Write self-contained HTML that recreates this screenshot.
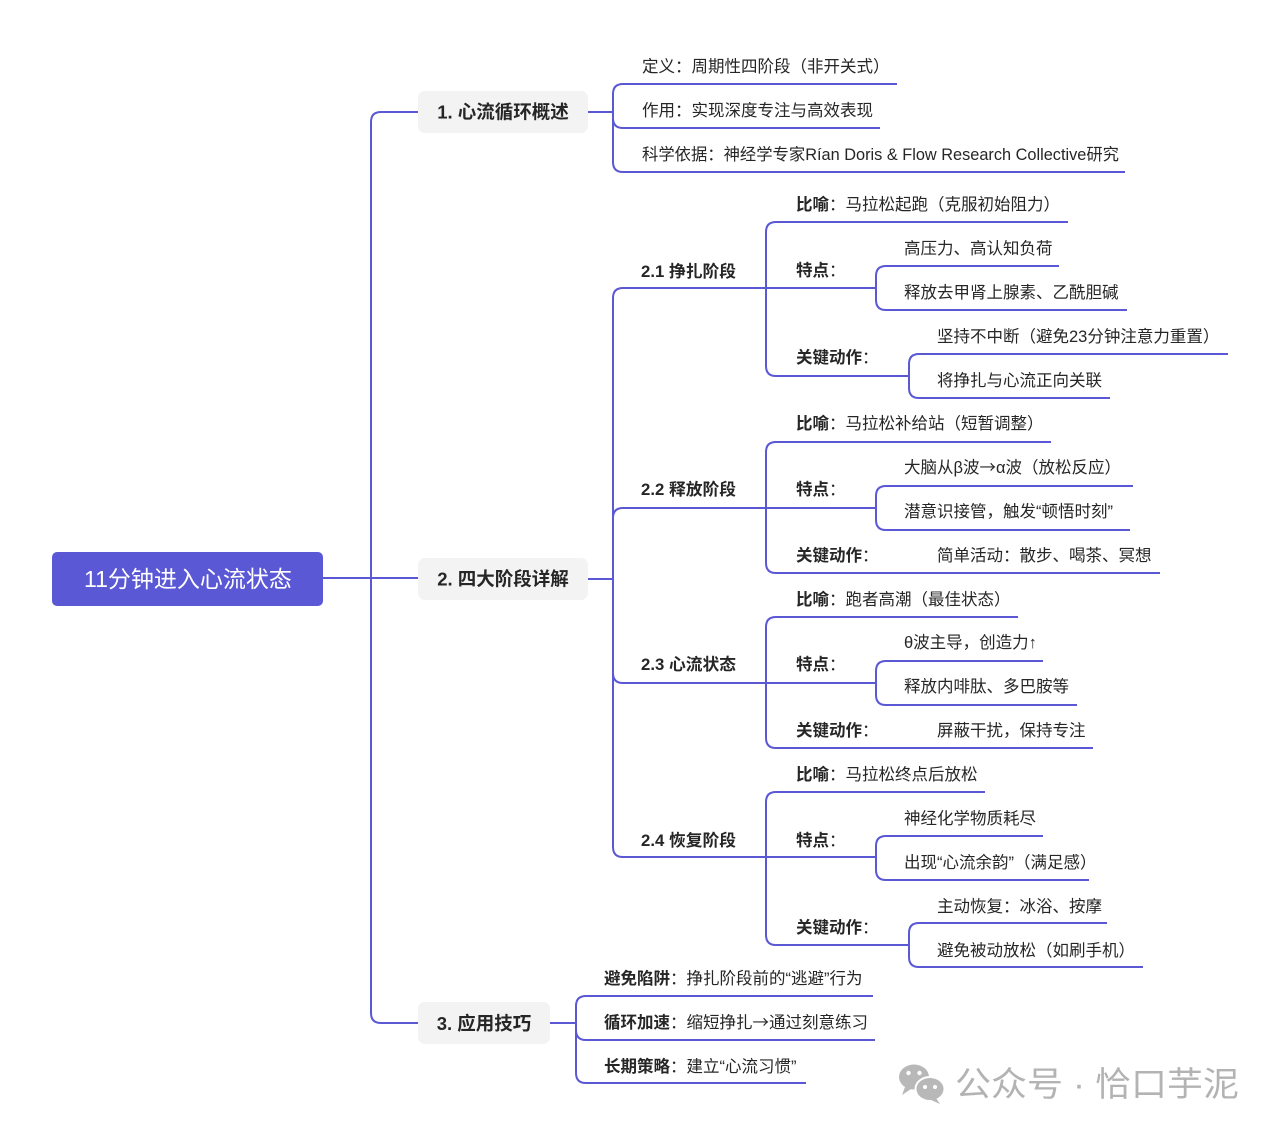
<!DOCTYPE html>
<html><head><meta charset="utf-8"><style>
html,body{margin:0;padding:0;background:#fff;width:1280px;height:1136px;overflow:hidden}
svg{display:block}
text{font-family:"Liberation Sans","Noto Sans CJK SC",sans-serif;fill:#262626;font-size:16.5px;text-spacing-trim:space-all}
.b{font-weight:bold}
.a{font-family:"Noto Sans CJK SC",sans-serif}
</style></head><body>
<svg width="1280" height="1136" viewBox="0 0 1280 1136" xmlns="http://www.w3.org/2000/svg">
<g fill="none" stroke="#5b58d6" stroke-width="2">
<path d="M323 578 H418"/>
<path d="M371 578 V122 Q371 112 381 112 H418"/>
<path d="M371 578 V1013 Q371 1023 381 1023 H418"/>
<path d="M588 112 H613"/>
<path d="M613 112 V94 Q613 84 623 84 H897"/>
<path d="M613 112 V118 Q613 128 623 128 H880"/>
<path d="M613 112 V162 Q613 172 623 172 H1125"/>
<path d="M588 579 H613"/>
<path d="M613 579 V298 Q613 288 623 288 H766"/>
<path d="M613 579 V518 Q613 508 623 508 H766"/>
<path d="M613 579 V673 Q613 683 623 683 H766"/>
<path d="M613 579 V847 Q613 857 623 857 H766"/>
<path d="M766 288 V232 Q766 222 776 222 H1068"/>
<path d="M766 288 H876"/>
<path d="M766 288 V366 Q766 376 776 376 H909"/>
<path d="M876 288 V276 Q876 266 886 266 H1059"/>
<path d="M876 288 V300 Q876 310 886 310 H1127"/>
<path d="M909 376 V364 Q909 354 919 354 H1228"/>
<path d="M909 376 V388 Q909 398 919 398 H1110"/>
<path d="M766 508 V452 Q766 442 776 442 H1051"/>
<path d="M766 508 H876"/>
<path d="M766 508 V563 Q766 573 776 573 H1160"/>
<path d="M876 508 V496 Q876 486 886 486 H1133"/>
<path d="M876 508 V520 Q876 530 886 530 H1130"/>
<path d="M766 683 V627 Q766 617 776 617 H1018"/>
<path d="M766 683 H876"/>
<path d="M766 683 V738 Q766 748 776 748 H1093"/>
<path d="M876 683 V671 Q876 661 886 661 H1043"/>
<path d="M876 683 V695 Q876 705 886 705 H1077"/>
<path d="M766 857 V802 Q766 792 776 792 H985"/>
<path d="M766 857 H876"/>
<path d="M766 857 V935 Q766 945 776 945 H909"/>
<path d="M876 857 V846 Q876 836 886 836 H1043"/>
<path d="M876 857 V870 Q876 880 886 880 H1089"/>
<path d="M909 945 V933 Q909 923 919 923 H1107"/>
<path d="M909 945 V957 Q909 967 919 967 H1143"/>
<path d="M550 1023 H576"/>
<path d="M576 1023 V1006 Q576 996 586 996 H873"/>
<path d="M576 1023 V1030 Q576 1040 586 1040 H875"/>
<path d="M576 1023 V1073 Q576 1083 586 1083 H806"/>
</g>

<rect x="52" y="552" width="271" height="54" rx="5" fill="#5b58d6"/>
<text x="188" y="587" text-anchor="middle" style="font-size:23px;fill:#fff">11分钟进入心流状态</text>

<rect x="418" y="91" width="170" height="42" rx="7" fill="#f3f3f3"/>
<text x="503" y="118.5" text-anchor="middle" class="b" style="font-size:18.5px">1. 心流循环概述</text>
<rect x="418" y="558" width="170" height="42" rx="7" fill="#f3f3f3"/>
<text x="503" y="585.5" text-anchor="middle" class="b" style="font-size:18.5px">2. 四大阶段详解</text>
<rect x="418" y="1002" width="132" height="42" rx="7" fill="#f3f3f3"/>
<text x="484" y="1030" text-anchor="middle" class="b" style="font-size:18.5px">3. 应用技巧</text>

<text x="642" y="72">定义：周期性四阶段（非开关式）</text>
<text x="642" y="116">作用：实现深度专注与高效表现</text>
<text x="642" y="160" textLength="477" lengthAdjust="spacingAndGlyphs">科学依据：神经学专家Rían Doris &amp; Flow Research Collective研究</text>

<text x="641" y="277" class="b" textLength="95" lengthAdjust="spacingAndGlyphs">2.1 挣扎阶段</text>
<text x="796" y="210"><tspan class="b">比喻</tspan>：马拉松起跑（克服初始阻力）</text>
<text x="796" y="276"><tspan class="b">特点</tspan>：</text>
<text x="904" y="254">高压力、高认知负荷</text>
<text x="904" y="298">释放去甲肾上腺素、乙酰胆碱</text>
<text x="796" y="363"><tspan class="b">关键动作</tspan>：</text>
<text x="937" y="342">坚持不中断（避免23分钟注意力重置）</text>
<text x="937" y="386">将挣扎与心流正向关联</text>

<text x="641" y="495" class="b" textLength="95" lengthAdjust="spacingAndGlyphs">2.2 释放阶段</text>
<text x="796" y="429"><tspan class="b">比喻</tspan>：马拉松补给站（短暂调整）</text>
<text x="796" y="495"><tspan class="b">特点</tspan>：</text>
<text x="904" y="473">大脑从β波<tspan class="a">→</tspan>α波（放松反应）</text>
<text x="904" y="517">潜意识接管，触发“顿悟时刻”</text>
<text x="796" y="561"><tspan class="b">关键动作</tspan>：</text>
<text x="937" y="561">简单活动：散步、喝茶、冥想</text>

<text x="641" y="670" class="b" textLength="95" lengthAdjust="spacingAndGlyphs">2.3 心流状态</text>
<text x="796" y="605"><tspan class="b">比喻</tspan>：跑者高潮（最佳状态）</text>
<text x="796" y="670"><tspan class="b">特点</tspan>：</text>
<text x="904" y="648">θ波主导，创造力↑</text>
<text x="904" y="692">释放内啡肽、多巴胺等</text>
<text x="796" y="736"><tspan class="b">关键动作</tspan>：</text>
<text x="937" y="736">屏蔽干扰，保持专注</text>

<text x="641" y="846" class="b" textLength="95" lengthAdjust="spacingAndGlyphs">2.4 恢复阶段</text>
<text x="796" y="780"><tspan class="b">比喻</tspan>：马拉松终点后放松</text>
<text x="796" y="846"><tspan class="b">特点</tspan>：</text>
<text x="904" y="824">神经化学物质耗尽</text>
<text x="904" y="868">出现“心流余韵”（满足感）</text>
<text x="796" y="933"><tspan class="b">关键动作</tspan>：</text>
<text x="937" y="912">主动恢复：冰浴、按摩</text>
<text x="937" y="956">避免被动放松（如刷手机）</text>

<text x="604" y="984"><tspan class="b">避免陷阱</tspan>：挣扎阶段前的“逃避”行为</text>
<text x="604" y="1028"><tspan class="b">循环加速</tspan>：缩短挣扎<tspan class="a">→</tspan>通过刻意练习</text>
<text x="604" y="1072"><tspan class="b">长期策略</tspan>：建立“心流习惯”</text>

<g>
<ellipse cx="914" cy="1077" rx="15" ry="12.5" fill="#b8b8b8"/>
<path d="M905 1087 L902 1095 L911 1089 Z" fill="#b8b8b8"/>
<circle cx="908.5" cy="1073" r="2.2" fill="#fff"/>
<circle cx="919.5" cy="1073" r="2.2" fill="#fff"/>
<ellipse cx="930" cy="1089" rx="14.5" ry="12" fill="#b8b8b8" stroke="#fff" stroke-width="2"/>
<path d="M936 1098 L940 1104 L931 1100 Z" fill="#b8b8b8"/>
<circle cx="925" cy="1087" r="2" fill="#fff"/>
<circle cx="935" cy="1087" r="2" fill="#fff"/>
</g>
<text x="955" y="1096" textLength="284" lengthAdjust="spacingAndGlyphs" style="font-size:34px;fill:#b3b3b3">公众号 · 恰口芋泥</text>
</svg>
</body></html>
